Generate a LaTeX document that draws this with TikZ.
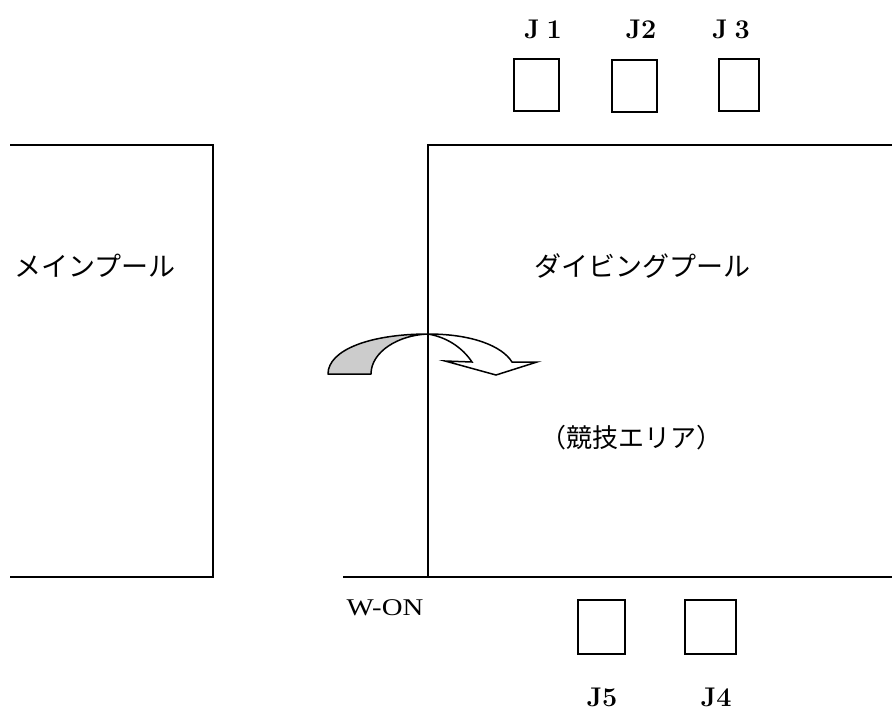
\documentclass[tikz,border=0pt]{standalone}
\usepackage{fontspec}
\newfontfamily\cjk{Noto Sans CJK JP}
\newfontfamily\timesf[FakeStretch=1.2]{Liberation Serif}
\begin{document}
\begin{tikzpicture}[x=1pt,y=-1pt,
  wall/.style={line width=1.5pt},
  judge/.style={draw,line width=1.5pt,minimum width=45pt,minimum height=52pt,inner sep=0pt},
  jlab/.style={font=\fontsize{27}{30}\selectfont\bfseries,inner sep=0pt},
  cjklab/.style={font=\cjk\fontsize{27}{30}\selectfont,inner sep=0pt}]
\useasboundingbox (0,0) rectangle (892,713);
% main pool
\coordinate (m1) at (10,145);
\coordinate (m2) at (213,145);
\coordinate (m3) at (213,577);
\coordinate (m4) at (10,577);
\draw[wall] (m1) -- (m2) -- (m3) -- (m4);
% diving pool
\coordinate (d1) at (428,577);
\coordinate (d2) at (428,145);
\coordinate (d3) at (892,145);
\coordinate (b1) at (343,577);
\coordinate (b2) at (892,577);
\draw[wall] (d1) -- (d2) -- (d3);
\draw[wall] (b1) -- (b2);
% labels
\node[cjklab] (main) at (95,266) {メインプール};
\node[cjklab] (dive) at (642,266) {ダイビングプール};
\node[cjklab,font=\cjk\fontsize{26}{30}\selectfont] (area) at (631,438) {（競技エリア）};
\node[font=\timesf\fontsize{24}{26}\selectfont,inner sep=0pt] (won) at (385,608) {W-ON};
% judges
\node[judge] (J1box) at (536.5,85) {};
\node[judge] (J2box) at (634.5,86) {};
\node[judge,minimum width=40pt] (J3box) at (739,85) {};
\node[judge,minimum width=47pt,minimum height=54pt] (J5box) at (601.5,627) {};
\node[judge,minimum width=51pt,minimum height=54pt] (J4box) at (710.5,627) {};
\node[jlab] (J1) at (543,29) {J\hspace{7pt}1};
\node[jlab] (J2) at (641,29) {J2};
\node[jlab] (J3) at (731,29) {J\hspace{7pt}3};
\node[jlab] (J5) at (602,697) {J5};
\node[jlab] (J4) at (716,697) {J4};
% curved arrow
\coordinate (top) at (428,334);
\draw[line width=1.5pt,fill=black!20,line join=round]
  (328,374) .. controls (328,350) and (370,334) .. (top)
  .. controls (398,335) and (371,352) .. (371,374) -- cycle;
\draw[line width=1.5pt,fill=white,line join=miter]
  (top) .. controls (472,334) and (502,346) .. (512,362)
  -- (537,362) -- (496,375) -- (445,361) -- (472,362)
  .. controls (462,347) and (446,337) .. (top) -- cycle;
\end{tikzpicture}
\end{document}
